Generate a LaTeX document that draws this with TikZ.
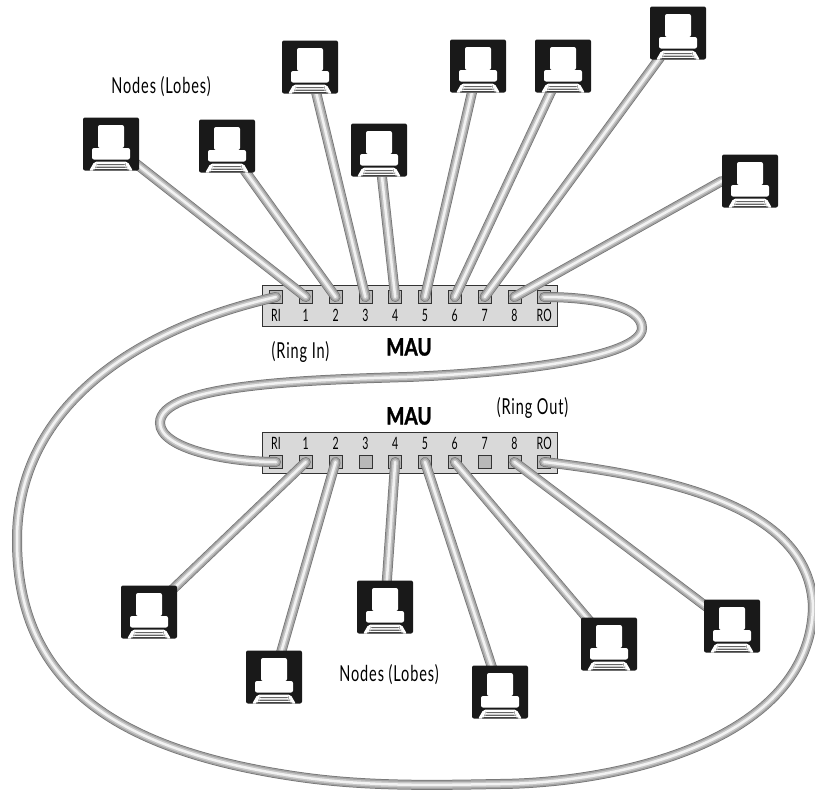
\documentclass[tikz,border=0pt]{standalone}
\usepackage{fontspec}
\setmainfont{Lato}[FakeStretch=0.66,LetterSpace=4,BoldFeatures={FakeStretch=0.8,LetterSpace=0,FakeBold=1.2}]
\newfontfamily\portfont{Lato}[FakeStretch=0.62]
\usepackage{tikz}
\usetikzlibrary{positioning}
\definecolor{maugray}{gray}{0.85}
\definecolor{portgray}{gray}{0.72}
\pgfdeclarelayer{box}
\pgfdeclarelayer{wire}
\pgfsetlayers{box,wire,main}

\begin{document}
\begin{tikzpicture}[x=1pt,y=-1pt,node distance=29.8pt,on grid,
mau/.style={rectangle,draw=black!80,fill=maugray,line width=1pt,minimum width=295pt,minimum height=41pt,inner sep=0pt},
port/.style={rectangle,draw=black!80,fill=portgray,line width=0.8pt,minimum width=13pt,minimum height=13pt,inner sep=0pt},
toplabel/.style={label={[font=\portfont\fontsize{17}{17}\selectfont,inner sep=0pt,yshift=-5pt]below:#1}},
botlabel/.style={label={[font=\portfont\fontsize{17}{17}\selectfont,inner sep=0pt,yshift=5pt]above:#1}},
lobe/.style={rectangle,fill=black!90,rounded corners=2pt,minimum width=56pt,minimum height=53pt,inner sep=0pt,
path picture={
\begin{scope}[shift={(path picture bounding box.center)}]
\fill[white] (-13,-19) rectangle (13,4);
\fill[white] (-19,4) rectangle (19,15.5);
\fill[white] (-16.5,17.5) -- (16.5,17.5) -- (22,27) -- (-22,27) -- cycle;
\fill[black!60] (-14.5,20) rectangle (14.5,21.2);
\fill[black!60] (-16,22.6) rectangle (16,23.8);
\fill[black!75] (-18,25.2) rectangle (18,27);
\end{scope}}},
cable/.style={line width=10pt,draw=black!55,line cap=round,
postaction={draw=black!36,line width=8.5pt,line cap=round},
postaction={draw=black!22,line width=5.5pt,line cap=round},
postaction={draw=black!5,line width=2.5pt,line cap=round}},
txt/.style={font=\fontsize{22}{22}\selectfont,inner sep=0pt},
mautitle/.style={font=\fontsize{24}{24}\selectfont\bfseries,inner sep=0pt}]
\useasboundingbox (0,0) rectangle (815,790);

\begin{pgfonlayer}{box}
\node[mau] (mautop) at (409.5,305.5) {};
\node[mau] (maubot) at (409.5,452.5) {};
% upper unit
\node[port,toplabel=RI] (ti) at (276,297) {};
\node[port,toplabel=1,right of=ti] (t1) {};
\node[port,toplabel=2,right of=t1] (t2) {};
\node[port,toplabel=3,right of=t2] (t3) {};
\node[port,toplabel=4,right of=t3] (t4) {};
\node[port,toplabel=5,right of=t4] (t5) {};
\node[port,toplabel=6,right of=t5] (t6) {};
\node[port,toplabel=7,right of=t6] (t7) {};
\node[port,toplabel=8,right of=t7] (t8) {};
\node[port,toplabel=RO,right of=t8] (to) {};
% lower unit
\node[port,botlabel=RI] (bi) at (276,462) {};
\node[port,botlabel=1,right of=bi] (b1) {};
\node[port,botlabel=2,right of=b1] (b2) {};
\node[port,botlabel=3,right of=b2] (b3) {};
\node[port,botlabel=4,right of=b3] (b4) {};
\node[port,botlabel=5,right of=b4] (b5) {};
\node[port,botlabel=6,right of=b5] (b6) {};
\node[port,botlabel=7,right of=b6] (b7) {};
\node[port,botlabel=8,right of=b7] (b8) {};
\node[port,botlabel=RO,right of=b8] (bo) {};
\end{pgfonlayer}

\node[lobe] (lt1) at (111,144) {};
\node[lobe] (lt2) at (227,146) {};
\node[lobe] (lt3) at (310,67) {};
\node[lobe] (lt4) at (379,150) {};
\node[lobe] (lt5) at (478,66) {};
\node[lobe] (lt6) at (563,66) {};
\node[lobe] (lt7) at (678,33) {};
\node[lobe] (lt8) at (750,181) {};
\node[lobe] (lb1) at (149,612) {};
\node[lobe] (lb2) at (274,677) {};
\node[lobe] (lb4) at (385,607) {};
\node[lobe] (lb5) at (500,692) {};
\node[lobe] (lb6) at (609,644) {};
\node[lobe] (lb8) at (732,626) {};

\begin{pgfonlayer}{wire}
\draw[cable] (t1.center) -- (lt1.center);
\draw[cable] (t2.center) -- (lt2.center);
\draw[cable] (t3.center) -- (lt3.center);
\draw[cable] (t4.center) -- (lt4.center);
\draw[cable] (t5.center) -- (lt5.center);
\draw[cable] (t6.center) -- (lt6.center);
\draw[cable] (t7.center) -- (lt7.center);
\draw[cable] (t8.center) -- (lt8.west);
\draw[cable] (b1.center) -- (lb1.center);
\draw[cable] (b2.center) -- (lb2.center);
\draw[cable] (b4.center) -- (lb4.center);
\draw[cable] (b5.center) -- (lb5.center);
\draw[cable] (b6.center) -- (lb6.center);
\draw[cable] (b8.center) -- (lb8.center);
% ring
\draw[cable] (to.center) .. controls (590,297) and (642,305) .. (642,328) .. controls (642,358) and (510,373) .. (407,377) .. controls (300,380) and (160,385) .. (160,423) .. controls (160,448) and (225,462) .. (bi.center);
\draw[cable] (ti.center) .. controls (130,330) and (17,410) .. (17,540) .. controls (17,680) and (110,750) .. (300,777) .. controls (370,787) and (440,785) .. (500,784) .. controls (620,783) and (810,740) .. (813,607) .. controls (810,510) and (680,478) .. (bo.center);
\end{pgfonlayer}

\node[txt] (lobestop) at (161,87) {Nodes (Lobes)};
\node[txt] (lobesbot) at (389,675) {Nodes (Lobes)};
\node[txt] (ringin) at (300.5,352) {(Ring In)};
\node[txt] (ringout) at (532.5,408) {(Ring Out)};
\node[mautitle] (titletop) at (409,347) {MAU};
\node[mautitle] (titlebot) at (409,416) {MAU};
\end{tikzpicture}
\end{document}
